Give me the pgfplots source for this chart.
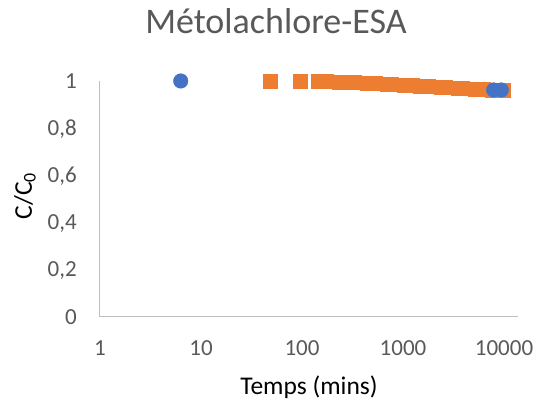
\documentclass[border=0pt]{standalone}
\usepackage{fontspec}
\setmainfont{Carlito}
\usepackage{pgfplots}
\pgfplotsset{compat=1.18}
\definecolor{xlblue}{HTML}{4472C4}
\definecolor{xlorange}{HTML}{ED7D31}
\definecolor{xlgrey}{HTML}{595959}
\definecolor{xlaxis}{HTML}{BFBFBF}

\begin{document}
\begin{tikzpicture}
\begin{axis}[
    scale only axis,
    width=418pt, height=236pt,
    xmode=log,
    xmin=1, xmax=13757,
    ymin=0, ymax=1,
    xtick={1,10,100,1000,10000},
    xticklabels={1,10,100,1000,10000},
    xminorticks=false,
    ytick={0,0.2,0.4,0.6,0.8,1},
    /pgf/number format/assume math mode=true,
    /pgf/number format/use comma,
    yticklabel style={/pgf/number format/fixed, /pgf/number format/precision=1},
    axis x line*=bottom, axis y line*=left,
    axis line style={xlaxis, line width=1pt, -},
    major tick length=0pt,
    ticklabel style={font=\fontsize{23}{26}\selectfont, text=xlgrey},
    xticklabel style={anchor=base, yshift=-38pt},
    yticklabel style={anchor=base east, inner sep=0pt, xshift=-23pt, yshift=-7.2pt},
    xlabel={Temps (mins)},
    ylabel={C/C\textsubscript{0}},
    label style={font=\fontsize{25.5}{30}\selectfont},
    xlabel style={at={(axis description cs:0.5,0)}, anchor=base, yshift=-77pt},
    ylabel style={at={(axis description cs:-0.1627,0.513)}, anchor=base},
    title={Métolachlore-ESA},
    title style={font=\fontsize{36}{40}\selectfont, text=xlgrey,
                 at={(axis description cs:0.421,1.1737)}, anchor=base},
    clip=false,
]
\addplot[only marks, mark=square*, mark size=6.8pt, color=xlorange] coordinates {
(48.5,1.000) (96,1.000) (145,0.999) (160,0.998) (175,0.998) (190,0.997) (210,0.997)
(230,0.996) (250,0.996) (275,0.995) (300,0.995) (330,0.994) (360,0.993) (400,0.992)
(440,0.991) (480,0.991) (530,0.990) (580,0.989) (640,0.988) (700,0.987) (770,0.986)
(850,0.985) (930,0.984) (1020,0.983) (1120,0.982) (1230,0.981) (1350,0.980)
(1490,0.979) (1640,0.978) (1800,0.977) (1980,0.976) (2180,0.975) (2400,0.974)
(2640,0.973) (2900,0.972) (3190,0.971) (3510,0.970) (3860,0.969) (4250,0.968)
(4670,0.967) (5140,0.966) (5650,0.965) (6220,0.964) (6840,0.963) (7520,0.962)
(8280,0.961) (9100,0.961) (9800,0.960)
};
\addplot[only marks, mark=*, mark size=7.3pt, color=xlblue] coordinates {
(6.3,1.000) (7900,0.962) (9400,0.962)
};
\end{axis}
\pgfresetboundingbox
\path (-100pt,-89pt) rectangle (445pt,317pt);
\end{tikzpicture}
\end{document}
